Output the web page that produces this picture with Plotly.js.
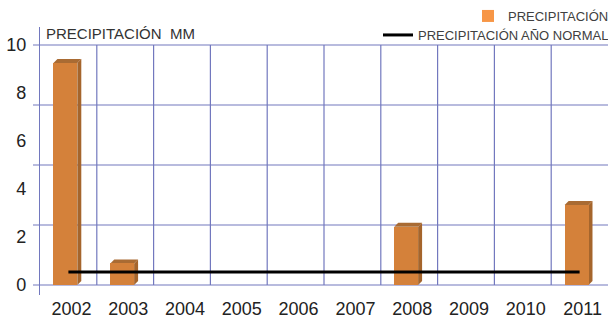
<!DOCTYPE html>
<html>
<head>
<meta charset="utf-8">
<script src="https://cdn.plot.ly/plotly-3.0.1.min.js"></script>
<style>html,body{margin:0;padding:0;background:#fff}#chart{width:608px;height:319px}</style>
</head>
<body>
<div id="chart"></div>
<script>
const years = ['2002','2003','2004','2005','2006','2007','2008','2009','2010','2011'];
const precipitation = [9.25, 0.9, 0, 0, 0, 0, 2.43, 0, 0, 3.33];
const normalYear = [0.54, 0.54, 0.54, 0.54, 0.54, 0.54, 0.54, 0.54, 0.54, 0.54];
const yLabelVals = [0, 2, 4, 6, 8, 10];
const gridVals = [0, 2.5, 5, 7.5, 10];

const idx = years.map((_, i) => i);
const FONT = 'Liberation Sans, Arial, sans-serif';
const GRID = '#7278BE';
const FRONT = '#D4813A';
const DARK = '#A5652C';
const barW = 0.42, barOff = -0.263, dx = 0.07, dy = 0.167;
const plotW = 608 - 40;

const shapes = [];
// horizontal grid lines with small outside ticks
gridVals.forEach(v => {
  shapes.push({type:'line', xref:'paper', yref:'y', x0:-7/plotW, x1:1, y0:v, y1:v,
    line:{color:GRID, width:1.2}, layer:'below'});
});
// vertical grid lines at category boundaries
for (let i = 1; i < years.length; i++) {
  shapes.push({type:'line', xref:'x', yref:'y', x0:i-0.5, x1:i-0.5, y0:0, y1:10,
    line:{color:GRID, width:1.2}, layer:'below'});
}
// 3D side and top faces derived from the data
precipitation.forEach((v, i) => {
  if (v <= 0) return;
  const l = i + barOff, r = l + barW;
  shapes.push({type:'path', xref:'x', yref:'y', layer:'below', line:{width:0}, fillcolor:DARK,
    path:`M${r},0 L${r+dx},${dy} L${r+dx},${v+dy} L${r},${v} Z`});
  shapes.push({type:'path', xref:'x', yref:'y', layer:'below', line:{width:0}, fillcolor:'#A96B33',
    path:`M${l},${v} L${l+dx},${v+dy} L${r+dx},${v+dy} L${r},${v} Z`});
});

const traces = [
  {type:'bar', x:idx, y:precipitation, width:barW, offset:barOff, showlegend:false,
   marker:{color:FRONT, line:{width:0}}, hoverinfo:'skip'},
  {type:'bar', x:[idx[0]], y:[null], name:'PRECIPITACIÓN', marker:{color:'#F79646'}, legend:'legend'},
  {type:'scatter', mode:'lines', x:idx, y:normalYear, name:'PRECIPITACIÓN AÑO NORMAL',
   line:{color:'#000', width:3}, legend:'legend2'}
];

const layout = {
  width:608, height:319,
  margin:{l:40, r:0, t:27, b:24, autoexpand:false},
  paper_bgcolor:'#fff', plot_bgcolor:'rgba(0,0,0,0)',
  font:{family:FONT, color:'#333'},
  title:{text:'PRECIPITACIÓN  MM', font:{size:15, color:'#333', family:FONT},
    xref:'container', yref:'container', x:46/608, xanchor:'left', y:1-34/319, yanchor:'middle'},
  xaxis:{type:'linear', range:[-0.5, 9.5], tickvals:idx, ticktext:years, showgrid:false,
    zeroline:false, showline:false, ticks:'', ticklabelstandoff:1,
    tickfont:{size:18, color:'#222'}, ticklabelshift:3, automargin:false},
  yaxis:{range:[-0.417, 10.75], tickvals:yLabelVals, showgrid:false, zeroline:false,
    showline:true, linecolor:GRID, linewidth:1.2, ticks:'outside', ticklen:9, tickcolor:'rgba(0,0,0,0)',
    tickfont:{size:18, color:'#222'}, automargin:false},
  legend:{xref:'paper', yref:'container', x:(614-40)/plotW, xanchor:'right', y:1-1/319, yanchor:'top',
    bgcolor:'rgba(0,0,0,0)', font:{size:13, color:'#404040', family:FONT}, tracegroupgap:0},
  legend2:{xref:'paper', yref:'container', x:(614-40)/plotW, xanchor:'right', y:1-20/319, yanchor:'top',
    bgcolor:'rgba(0,0,0,0)', font:{size:13, color:'#404040', family:FONT}},
  shapes: shapes,
  bargap:0
};

Plotly.newPlot('chart', traces, layout, {staticPlot:true, displayModeBar:false});
</script>
</body>
</html>
